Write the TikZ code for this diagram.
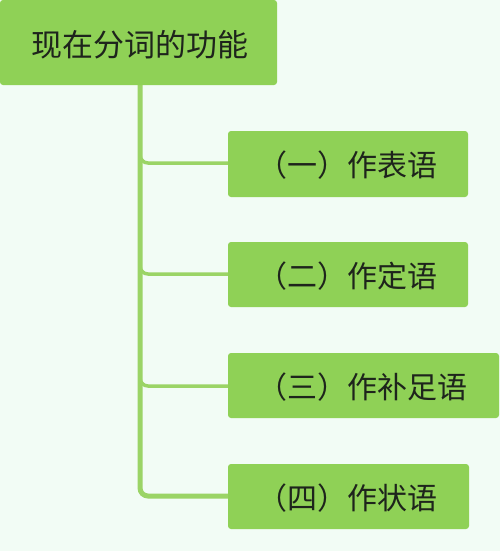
\documentclass[tikz,border=0pt]{standalone}
\usepackage{fontspec}
\setmainfont{Noto Sans CJK SC}
\begin{document}
\begin{tikzpicture}[x=1pt,y=-1pt,
  box/.style={fill=boxgreen,draw=none,rounded corners=3pt,inner sep=0pt},
  lbl/.style={font=\fontsize{30}{33}\selectfont,text=txtcol,inner sep=0pt,anchor=west},
  conn/.style={draw=linegreen,line width=3.5pt,rounded corners=8pt}]
\definecolor{boxgreen}{HTML}{8FD156}
\definecolor{linegreen}{HTML}{9BD466}
\definecolor{bgcol}{HTML}{F2FCF5}
\definecolor{txtcol}{HTML}{1E241C}
\fill[bgcol] (0,0) rectangle (500,551);
\useasboundingbox (0,0) rectangle (500,551);
% connectors
\coordinate (top) at (140,85);
\draw[conn,line width=5pt] (top) -- (140,496) -- (228,496);
\draw[conn] (140,150) -- (140,163) -- (228,163);
\draw[conn] (140,261) -- (140,274) -- (228,274);
\draw[conn] (140,373) -- (140,386) -- (228,386);
% boxes
\path[box] (0,0) rectangle (277,85);
\node[font=\fontsize{31}{34}\selectfont,text=txtcol,inner sep=0pt] (root) at (140,45) {现在分词的功能};
\path[box] (228,131) rectangle (468,197);
\node[lbl] (c1) at (257,165) {（一）作表语};
\path[box] (228,242) rectangle (468,307);
\node[lbl] (c2) at (257,276) {（二）作定语};
\path[box] (228,353) rectangle (499,418);
\node[lbl] (c3) at (257,387) {（三）作补足语};
\path[box] (228,464) rectangle (469,529);
\node[lbl] (c4) at (257,498) {（四）作状语};
\end{tikzpicture}
\end{document}
